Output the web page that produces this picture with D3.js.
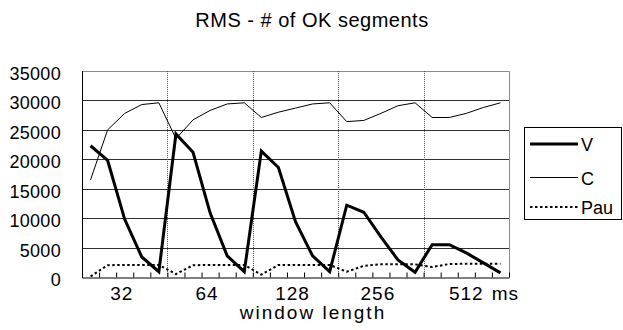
<!DOCTYPE html>
<meta charset="utf-8">
<script src="https://d3js.org/d3.v7.min.js"></script>
<style>
  body { margin: 0; background: #fff; }
  text { font-family: "Liberation Sans", Arial, sans-serif; fill: #000; }
</style>
<div id="chart"></div>
<script>

    // group labels of the x axis, 5 points in each group
    var groups = ["32", "64", "128", "256", "512"];
    var perGroup = 5;

    // series values
    var vValues = [22300, 19800, 9800, 3400, 900,
                   24300, 21200, 10900, 3600, 900,
                   21400, 18600, 9400, 3600, 900,
                   12200, 11000, 6800, 2900, 800,
                   5500, 5500, 4100, 2400, 700];
    var cValues = [16500, 25000, 27800, 29300, 29600,
                   23500, 26700, 28300, 29400, 29600,
                   27100, 28000, 28700, 29400, 29600,
                   26400, 26600, 27800, 29100, 29600,
                   27100, 27100, 27800, 28800, 29600];
    var pauValues = [100, 2000, 2050, 2050, 2050,
                     500, 2000, 2050, 2050, 2050,
                     400, 2050, 2050, 2050, 2050,
                     900, 1900, 2150, 2150, 2150,
                     1700, 2200, 2250, 2250, 2250];
    var yTicks = [0, 5000, 10000, 15000, 20000, 25000, 30000, 35000];

    var W = 623, H = 330;
    var pLeft = 82, pRight = 509, pTop = 71, pBottom = 277;
    var n = vValues.length;

    var svg = d3.select("#chart").append("svg")
        .attr("width", W).attr("height", H);

    var x = d3.scaleLinear().domain([0, n]).range([pLeft, pRight]);
    var y = d3.scaleLinear().domain([0, 35000]).range([pBottom, pTop]);

    // title
    svg.append("text")
        .attr("x", 312).attr("y", 27)
        .attr("text-anchor", "middle")
        .style("font-size", "20px")
        .style("letter-spacing", "0.5px")
        .text("RMS - # of OK segments");

    // horizontal grid lines
    svg.append("g").selectAll("line")
        .data(yTicks.filter(function (d) { return d > 0 && d < 35000; }))
        .enter().append("line")
        .attr("x1", pLeft).attr("x2", pRight)
        .attr("y1", function (d) { return Math.round(y(d)) + 0.5; })
        .attr("y2", function (d) { return Math.round(y(d)) + 0.5; })
        .attr("stroke", "#303030");

    // top and right of the plot box
    svg.append("path")
        .attr("d", "M" + pLeft + "," + (pTop + 0.5) + "H" + (pRight + 0.5) + "V" + pBottom)
        .attr("fill", "none").attr("stroke", "#8a8a8a");

    // dotted separators between the groups
    svg.append("g").selectAll("line")
        .data(d3.range(1, groups.length))
        .enter().append("line")
        .attr("x1", function (d) { return Math.round(x(d * perGroup)) + 0.5; })
        .attr("x2", function (d) { return Math.round(x(d * perGroup)) + 0.5; })
        .attr("y1", pTop).attr("y2", pBottom)
        .attr("stroke", "#555").attr("stroke-dasharray", "1,1");

    // y axis labels
    svg.append("g").selectAll("text")
        .data(yTicks)
        .enter().append("text")
        .attr("x", 61)
        .attr("y", function (d) { return y(d) + 9; })
        .attr("text-anchor", "end")
        .style("font-size", "18px")
        .style("letter-spacing", "0.3px")
        .text(function (d) { return d; });

    // x axis: ticks at category boundaries, pointing inwards
    var xAxis = svg.append("g")
        .attr("transform", "translate(0," + (pBottom + 0.5) + ")")
        .call(d3.axisBottom(x).tickValues(d3.range(n + 1)).tickSize(-5).tickSizeOuter(0).tickFormat(""));
    xAxis.select(".domain").attr("stroke", "#000");
    xAxis.selectAll(".tick line").attr("stroke", "#000");

    svg.append("line")
        .attr("x1", pLeft + 0.5).attr("x2", pLeft + 0.5)
        .attr("y1", pTop).attr("y2", pBottom + 1)
        .attr("stroke", "#000");

    // group labels
    groups.forEach(function (g, i) {
        var t = svg.append("text")
            .attr("x", x(i * perGroup + perGroup / 2) - (i < groups.length - 1 ? 3 : 0))
            .attr("y", 300)
            .attr("text-anchor", "middle")
            .style("font-size", "19px")
            .style("letter-spacing", "1px")
            .text(g);
        if (i == groups.length - 1) {
            var bb = t.node().getBBox();
            svg.append("text")
                .attr("x", bb.x + bb.width + 8).attr("y", 300)
                .style("font-size", "19px")
                .style("letter-spacing", "1px")
                .text("ms");
        }
    });

    svg.append("text")
        .attr("x", 313).attr("y", 319)
        .attr("text-anchor", "middle")
        .style("font-size", "19px")
        .style("letter-spacing", "2px")
        .text("window length");

    // the three series
    var line = d3.line()
        .x(function (d, i) { return x(i + 0.5); })
        .y(function (d) { return y(d); });

    svg.append("path").datum(pauValues)
        .attr("d", line).attr("fill", "none")
        .attr("stroke", "#000").attr("stroke-width", 2)
        .attr("stroke-dasharray", "2.5,2.5");
    svg.append("path").datum(cValues)
        .attr("d", line).attr("fill", "none")
        .attr("stroke", "#000").attr("stroke-width", 1);
    svg.append("path").datum(vValues)
        .attr("d", line).attr("fill", "none")
        .attr("stroke", "#000").attr("stroke-width", 3)
        .attr("stroke-linejoin", "miter");

    // legend
    var legend = svg.append("g");
    legend.append("rect")
        .attr("x", 524.5).attr("y", 127.5)
        .attr("width", 97).attr("height", 92)
        .attr("fill", "#fff").attr("stroke", "#000");
    var items = [
        { name: "V", width: 3, dash: null, yy: 144 },
        { name: "C", width: 1, dash: null, yy: 177.5 },
        { name: "Pau", width: 2, dash: "2.5,2.5", yy: 207 }
    ];
    items.forEach(function (d) {
        legend.append("line")
            .attr("x1", 530).attr("x2", 578)
            .attr("y1", d.yy).attr("y2", d.yy)
            .attr("stroke", "#000").attr("stroke-width", d.width)
            .attr("stroke-dasharray", d.dash);
        legend.append("text")
            .attr("x", 581).attr("y", Math.round(d.yy) + 7)
            .style("font-size", "18px")
            .text(d.name);
    });
</script>
